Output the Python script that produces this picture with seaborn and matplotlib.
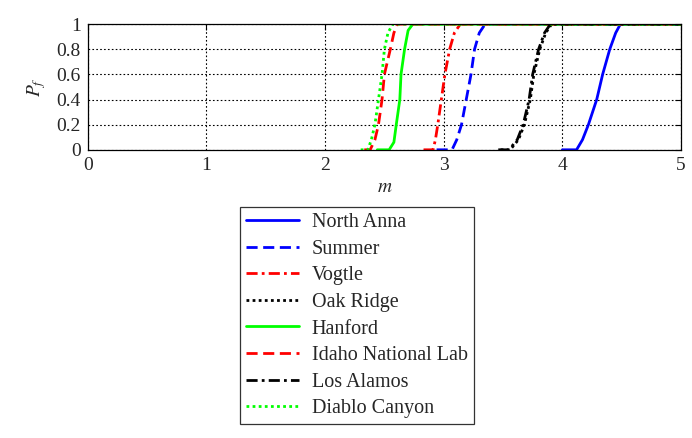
import numpy as np
import pandas as pd
import matplotlib
matplotlib.use('Agg')
import matplotlib.pyplot as plt
import seaborn as sns

# fragility curves
sites = ['North Anna', 'Summer', 'Vogtle', 'Oak Ridge',
         'Hanford', 'Idaho National Lab', 'Los Alamos', 'Diablo Canyon']

m_north_anna = [4.00, 4.12, 4.17, 4.22, 4.29, 4.34, 4.40, 4.45, 4.49, 5.00]
pf_north_anna = [0.0, 0.0, 0.08, 0.2, 0.4, 0.6, 0.8, 0.93, 1.0, 1.0]

m_summer = [2.94, 3.07, 3.11, 3.15, 3.19, 3.23, 3.26, 3.30, 3.35, 5.00]
pf_summer = [0.0, 0.0, 0.08, 0.2, 0.4, 0.6, 0.8, 0.93, 1.0, 1.0]

m_vogtle = [2.83, 2.91, 2.93, 2.95, 2.98, 3.01, 3.05, 3.09, 3.14, 5.00]
pf_vogtle = [0.0, 0.0, 0.08, 0.2, 0.4, 0.6, 0.8, 0.93, 1.0, 1.0]

m_oak_ridge = [3.48, 3.56, 3.63, 3.68, 3.73, 3.76, 3.81, 3.86, 3.91, 5.00]
pf_oak_ridge = [0.0, 0.0, 0.08, 0.2, 0.4, 0.6, 0.8, 0.93, 1.0, 1.0]

m_hanford = [2.44, 2.54, 2.58, 2.60, 2.63, 2.64, 2.67, 2.70, 2.74, 5.00]
pf_hanford = [0.0, 0.0, 0.06, 0.2, 0.4, 0.6, 0.8, 0.95, 1.0, 1.0]

m_idaho = [2.33, 2.38, 2.42, 2.45, 2.48, 2.50, 2.55, 2.58, 2.61, 5.00]
pf_idaho = [0.0, 0.0, 0.08, 0.2, 0.4, 0.6, 0.8, 0.93, 1.0, 1.0]

m_los_alamos = [3.46, 3.55, 3.62, 3.67, 3.72, 3.75, 3.80, 3.85, 3.90, 5.00]
pf_los_alamos = [0.0, 0.0, 0.08, 0.2, 0.4, 0.6, 0.8, 0.93, 1.0, 1.0]

m_diablo = [2.30, 2.36, 2.39, 2.42, 2.45, 2.48, 2.50, 2.53, 2.57, 5.00]
pf_diablo = [0.0, 0.0, 0.08, 0.2, 0.4, 0.6, 0.8, 0.93, 1.0, 1.0]

all_m = [m_north_anna, m_summer, m_vogtle, m_oak_ridge,
         m_hanford, m_idaho, m_los_alamos, m_diablo]
all_pf = [pf_north_anna, pf_summer, pf_vogtle, pf_oak_ridge,
          pf_hanford, pf_idaho, pf_los_alamos, pf_diablo]

colors = ['#0000ff', '#0000ff', '#ff0000', '#000000',
          '#00ff00', '#ff0000', '#000000', '#00ff00']
styles = ['-', (0, (4, 2)), (0, (4, 1.5, 1, 1.5)), (0, (1, 1.2)),
          '-', (0, (4, 2)), (0, (4, 1.5, 1, 1.5)), (0, (1, 1.2))]

sns.set_style('white')
plt.rcParams['font.family'] = ['Liberation Serif', 'DejaVu Serif']
plt.rcParams['mathtext.fontset'] = 'stix'

fig = plt.figure(figsize=(6.92, 4.38), dpi=100)
ax = fig.add_axes([0.127, 0.658, 0.857, 0.287])

for name, m, pf, c, ls in zip(sites, all_m, all_pf, colors, styles):
    df = pd.DataFrame({'m': m, 'Pf': pf})
    sns.lineplot(data=df, x='m', y='Pf', ax=ax, color=c, linestyle=ls,
                 linewidth=2, label=name, legend=False)

ax.set_xlim(0, 5)
ax.set_ylim(0, 1)
ax.set_xticks([0, 1, 2, 3, 4, 5])
ax.set_yticks([0, 0.2, 0.4, 0.6, 0.8, 1])
ax.set_yticklabels(['0', '0.2', '0.4', '0.6', '0.8', '1'])
ax.grid(True, color='black', linestyle=(0, (1.5, 2)), linewidth=0.8)
ax.tick_params(direction='in', labelsize=14, length=4, color='black',
               top=True, right=True, pad=5)
for sp in ax.spines.values():
    sp.set_color('black')
    sp.set_linewidth(0.9)
ax.set_xlabel('$m$', fontsize=14, labelpad=4)
ax.set_ylabel('$P_f$', fontsize=14, labelpad=6)

handles, labels = ax.get_legend_handles_labels()
leg = fig.legend(handles, labels, loc='upper left',
                 bbox_to_anchor=(0.347, 0.527), fontsize=14.5,
                 frameon=True, fancybox=False, edgecolor='black',
                 handlelength=2.6, labelspacing=0.37, borderpad=0.3,
                 handletextpad=0.65, borderaxespad=0)
leg.get_frame().set_linewidth(0.9)

fig.savefig('out.png', dpi=100)
